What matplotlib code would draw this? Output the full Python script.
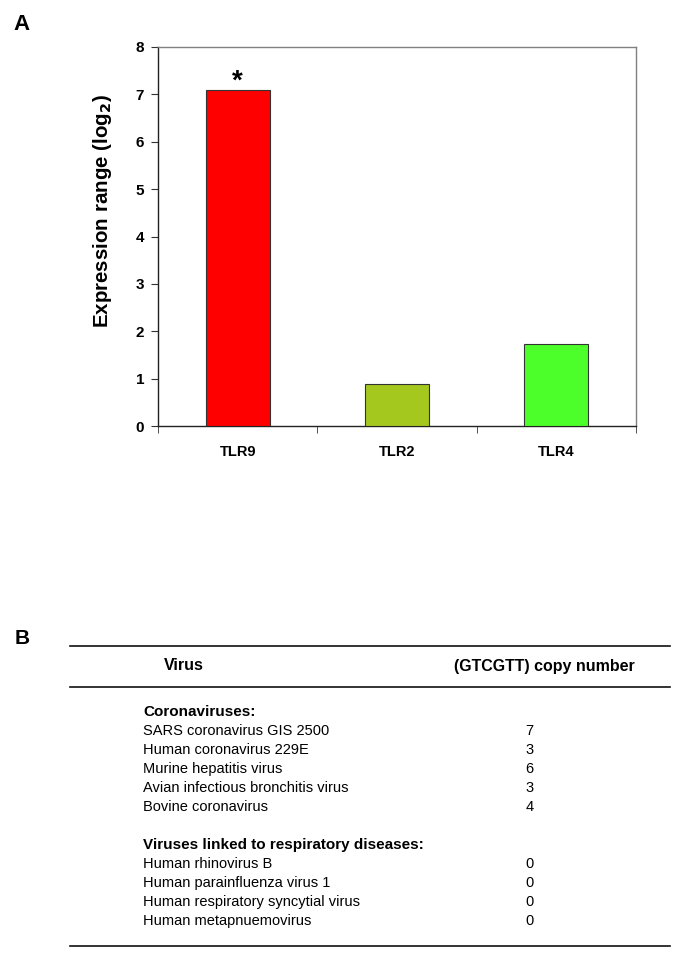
import matplotlib
matplotlib.use("Agg")
import matplotlib.pyplot as plt
from matplotlib.lines import Line2D

# ---- data ----
categories = ["TLR9", "TLR2", "TLR4"]
values = [7.1, 0.88, 1.74]
bar_colors = ["#FF0000", "#A5C81E", "#4CFF2A"]
significant = [True, False, False]
y_ticks = [0, 1, 2, 3, 4, 5, 6, 7, 8]

header_virus = "Virus"
header_copy = "(GTCGTT) copy number"
group1_title = "Coronaviruses:"
group1_names = ["SARS coronavirus GIS 2500", "Human coronavirus 229E",
                "Murine hepatitis virus", "Avian infectious bronchitis virus",
                "Bovine coronavirus"]
group1_copies = [7, 3, 6, 3, 4]
group2_title = "Viruses linked to respiratory diseases:"
group2_names = ["Human rhinovirus B", "Human parainfluenza virus 1",
                "Human respiratory syncytial virus", "Human metapnuemovirus"]
group2_copies = [0, 0, 0, 0]

plt.rcParams['font.family'] = ['Liberation Sans', 'DejaVu Sans']

W, H = 685, 974
fig = plt.figure(figsize=(W / 100, H / 100), dpi=100)
fig.patch.set_facecolor("white")


def fx(px):
    return px / W


def fy(py):
    return 1 - py / H


# ---- panel A ----
ax = fig.add_axes([fx(158), fy(426), fx(636) - fx(158), fy(47) - fy(426)])
x = list(range(len(categories)))
ax.bar(x, values, width=0.4, color=bar_colors, edgecolor="#333333", linewidth=0.8, zorder=3)
ax.set_xlim(-0.5, len(categories) - 0.5)
ax.set_ylim(0, 8)
ax.set_yticks(y_ticks)
ax.set_yticklabels([str(t) for t in y_ticks], fontsize=11, fontweight="bold")
ax.set_xticks(x)
ax.set_xticklabels(categories, fontsize=10.5, fontweight="bold")
ax.tick_params(axis="x", length=0, pad=14)
ax.set_xticks([i - 0.5 for i in range(len(categories) + 1)], minor=True)
ax.tick_params(axis="x", which="minor", length=5, direction="out", color="#333333")
ax.tick_params(axis="y", length=5, direction="out", color="#333333", pad=5)
for s in ["left", "bottom"]:
    ax.spines[s].set_color("#222222")
    ax.spines[s].set_linewidth(1.0)
for s in ["top", "right"]:
    ax.spines[s].set_color("#808080")
    ax.spines[s].set_linewidth(1.0)
for xi, v, sig in zip(x, values, significant):
    if sig:
        ax.annotate("*", (xi, v), xytext=(0, 1), textcoords="offset points",
                    ha="center", va="baseline", fontsize=20, fontweight="bold")
ax.set_ylabel("Expression range (log$_\\mathbf{2}$)", fontsize=14.8, fontweight="bold")
ax.yaxis.set_label_coords(-0.092, 0.567)

fig.text(fx(22), fy(25), "A", fontsize=16, fontweight="bold", ha="center", va="center")
fig.text(fx(22), fy(638), "B", fontsize=15, fontweight="bold", ha="center", va="center")

# ---- panel B (table) ----
tax = fig.add_axes([0, 0, 1, 1])
tax.set_xlim(0, W)
tax.set_ylim(H, 0)
tax.axis("off")
for ly in (646, 687, 946):
    tax.add_line(Line2D([70, 670], [ly, ly], color="#111111", linewidth=1.2))

tax.text(184, 666, header_virus, fontsize=11.5, fontweight="bold", ha="center", va="center")
tax.text(544, 666, header_copy, fontsize=11.5, fontweight="bold", ha="center", va="center")

row_h = 19
y0 = 711
name_x = 143
num_x = 529.5
rows = [(group1_title, None, True)]
rows += [(n, c, False) for n, c in zip(group1_names, group1_copies)]
rows += [(None, None, False)]
rows += [(group2_title, None, True)]
rows += [(n, c, False) for n, c in zip(group2_names, group2_copies)]
for i, (name, copies, bold) in enumerate(rows):
    yy = y0 + i * row_h
    if name is None:
        continue
    tax.text(name_x, yy, name, fontsize=11 if bold else 10.5,
             fontweight="bold" if bold else "normal", ha="left", va="baseline",
             transform=tax.transData + matplotlib.transforms.ScaledTranslation(0, -5 / 100, fig.dpi_scale_trans))
    if copies is not None:
        tax.text(num_x, yy, str(copies), fontsize=10.5, ha="center", va="baseline",
                 transform=tax.transData + matplotlib.transforms.ScaledTranslation(0, -5 / 100, fig.dpi_scale_trans))

fig.savefig("out.png", dpi=100, facecolor="white")
